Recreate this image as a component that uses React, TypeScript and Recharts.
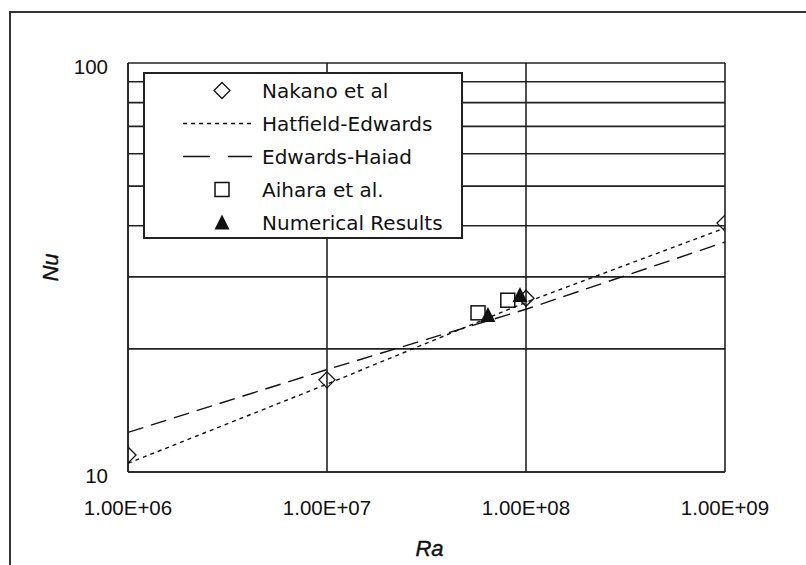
import React from 'react';
import { ComposedChart, XAxis, YAxis, CartesianGrid, Line, Scatter, Legend } from 'recharts';

// Axis ticks
const raTicks = [1e6, 1e7, 1e8, 1e9];
const nuTicks = [10, 20, 30, 40, 50, 60, 70, 80, 90, 100];
const nuLabelled = [10, 100];

// Series names
const seriesNames = ['Nakano et al', 'Hatfield-Edwards', 'Edwards-Haiad', 'Aihara et al.', 'Numerical Results'];

// Nakano et al (experiment)
const nakanoRa = [1e6, 1e7, 1e8, 1e9];
const nakanoNu = [11.0, 16.8, 26.6, 40.6];

// Hatfield-Edwards correlation
const hatfieldRa = [1e6, 1e7, 1e8, 1e9];
const hatfieldNu = [10.5, 16.4, 26.0, 39.5];

// Edwards-Haiad correlation
const edwardsRa = [1e6, 1e7, 1e8, 1e9];
const edwardsNu = [12.5, 17.8, 25.0, 36.5];

// Aihara et al. (experiment)
const aiharaRa = [5.74e7, 8.1e7];
const aiharaNu = [24.5, 26.3];

// Numerical results
const numericalRa = [6.44e7, 9.33e7];
const numericalNu = [24.2, 27.1];

const zip = (xs: number[], ys: number[]) => xs.map((x, i) => ({ x, y: ys[i] }));

const nakanoData = zip(nakanoRa, nakanoNu);
const hatfieldData = zip(hatfieldRa, hatfieldNu);
const edwardsData = zip(edwardsRa, edwardsNu);
const aiharaData = zip(aiharaRa, aiharaNu);
const numericalData = zip(numericalRa, numericalNu);

const SANS = '"Liberation Sans", Arial, sans-serif';
const LEGEND_FONT = '"DejaVu Sans", sans-serif';
const INK = '#111';
const GRID = '#222';

const HATFIELD_DASH = '4 4';
const EDWARDS_DASH = '16 8';

const fmtSci = (v: number) => {
  const exp = Math.round(Math.log10(v));
  const mant = v / Math.pow(10, exp);
  return `${mant.toFixed(2)}E+${String(exp).padStart(2, '0')}`;
};

const Diamond = (props: any) => {
  const { cx, cy } = props;
  if (cx == null || cy == null) return null;
  const r = 8;
  return (
    <polygon
      points={`${cx},${cy - r} ${cx + r},${cy} ${cx},${cy + r} ${cx - r},${cy}`}
      fill="none"
      stroke={INK}
      strokeWidth={1.3}
    />
  );
};

const Square = (props: any) => {
  const { cx, cy } = props;
  if (cx == null || cy == null) return null;
  return <rect x={cx - 7} y={cy - 7} width={14} height={14} fill="none" stroke={INK} strokeWidth={1.5} />;
};

const Triangle = (props: any) => {
  const { cx, cy } = props;
  if (cx == null || cy == null) return null;
  return <polygon points={`${cx},${cy - 8} ${cx + 7.5},${cy + 7} ${cx - 7.5},${cy + 7}`} fill={INK} stroke="none" />;
};

const RaTick = (props: any) => {
  const { x, y, payload } = props;
  return (
    <text x={x} y={y + 43} textAnchor="middle" fontFamily={SANS} fontSize={20.5} fill={INK}>
      {fmtSci(payload.value)}
    </text>
  );
};

const NuTick = (props: any) => {
  const { x, y, payload } = props;
  if (!nuLabelled.includes(payload.value)) return null;
  return (
    <text x={x} y={y + 10.5} textAnchor="end" fontFamily={SANS} fontSize={20.5} fill={INK}>
      {payload.value}
    </text>
  );
};

const NuTitle = (props: any) => {
  const vb = props.viewBox || { x: 0, y: 63, width: 128, height: 409 };
  const x = vb.x + 58;
  const y = vb.y + vb.height / 2;
  return (
    <text
      x={x}
      y={y}
      transform={`rotate(-90 ${x} ${y})`}
      textAnchor="middle"
      fontFamily={SANS}
      fontStyle="italic"
      fontSize={22}
      fill={INK}
      stroke={INK}
      strokeWidth={0.4}
    >
      Nu
    </text>
  );
};

const RaTitle = (props: any) => {
  const vb = props.viewBox || { x: 128, y: 472, width: 597, height: 93 };
  return (
    <text
      x={vb.x + vb.width / 2 + 3}
      y={vb.y + 84}
      textAnchor="middle"
      fontFamily={SANS}
      fontStyle="italic"
      fontSize={22}
      fill={INK}
      stroke={INK}
      strokeWidth={0.4}
    >
      Ra
    </text>
  );
};

const LegendBox = () => {
  const rowY = (i: number) => 18.5 + i * 33;
  const symX = 79;
  const lineX1 = 40;
  const lineX2 = 109;
  const textX = 119;
  return (
    <div
      style={{
        width: 320,
        height: 167,
        boxSizing: 'border-box',
        border: `2px solid ${GRID}`,
        background: '#fff',
      }}
    >
      <svg width={316} height={163} style={{ display: 'block', marginLeft: -2, marginTop: -2, overflow: 'visible' }}>
        <Diamond cx={symX} cy={rowY(0)} />
        <line x1={lineX1} x2={lineX2} y1={rowY(1)} y2={rowY(1)} stroke={INK} strokeWidth={1.3} strokeDasharray={HATFIELD_DASH} />
        <line x1={lineX1} x2={lineX2} y1={rowY(2)} y2={rowY(2)} stroke={INK} strokeWidth={1.3} strokeDasharray="27 18" />
        <Square cx={symX} cy={rowY(3)} />
        <Triangle cx={symX} cy={rowY(4)} />
        {seriesNames.map((name, i) => (
          <text key={name} x={textX} y={rowY(i) + 7.3} fontFamily={LEGEND_FONT} fontSize={20} fill={INK}>
            {name}
          </text>
        ))}
      </svg>
    </div>
  );
};

export default function App() {
  return (
    <div style={{ position: 'fixed', left: 0, top: 0, width: 806, height: 565, background: '#fff', overflow: 'hidden' }}>
      {/* sheet frame: left and top edges */}
      <div style={{ position: 'absolute', left: 9, top: 11, width: 2, height: 554, background: '#333' }} />
      <div style={{ position: 'absolute', left: 9, top: 11, width: 797, height: 2, background: '#333' }} />
      <div style={{ position: 'absolute', left: 0, top: 0 }}>
        <ComposedChart width={806} height={565} margin={{ top: 63, right: 81, bottom: 0, left: 0 }}>
          <CartesianGrid stroke={GRID} strokeWidth={1.6} horizontalValues={nuTicks} verticalValues={raTicks} />
          <XAxis
            dataKey="x"
            type="number"
            scale="log"
            domain={[1e6, 1e9]}
            ticks={raTicks}
            allowDataOverflow
            height={93}
            tickLine={false}
            tickSize={0}
            tickMargin={0}
            axisLine={{ stroke: GRID, strokeWidth: 1.6 }}
            tick={<RaTick />}
            interval={0}
            label={{ content: (p: any) => <RaTitle {...p} /> }}
          />
          <YAxis
            dataKey="y"
            type="number"
            scale="log"
            domain={[10, 100]}
            ticks={nuTicks}
            allowDataOverflow
            width={128}
            tickLine={false}
            tickSize={0}
            tickMargin={20}
            axisLine={{ stroke: GRID, strokeWidth: 1.6 }}
            tick={<NuTick />}
            interval={0}
            label={{ content: (p: any) => <NuTitle {...p} /> }}
          />
          <Line
            data={hatfieldData}
            dataKey="y"
            name={seriesNames[1]}
            type="linear"
            stroke={INK}
            strokeWidth={1.4}
            strokeDasharray={HATFIELD_DASH}
            dot={false}
            activeDot={false}
            isAnimationActive={false}
          />
          <Line
            data={edwardsData}
            dataKey="y"
            name={seriesNames[2]}
            type="linear"
            stroke={INK}
            strokeWidth={1.4}
            strokeDasharray={EDWARDS_DASH}
            dot={false}
            activeDot={false}
            isAnimationActive={false}
          />
          <Scatter data={nakanoData} dataKey="y" name={seriesNames[0]} shape={<Diamond />} isAnimationActive={false} />
          <Scatter data={aiharaData} dataKey="y" name={seriesNames[3]} shape={<Square />} isAnimationActive={false} />
          <Scatter data={numericalData} dataKey="y" name={seriesNames[4]} shape={<Triangle />} isAnimationActive={false} />
          <Legend
            layout="vertical"
            align="center"
            verticalAlign="middle"
            wrapperStyle={{ left: 143, top: 72, width: 320, height: 167 }}
            content={() => <LegendBox />}
          />
        </ComposedChart>
      </div>
    </div>
  );
}
